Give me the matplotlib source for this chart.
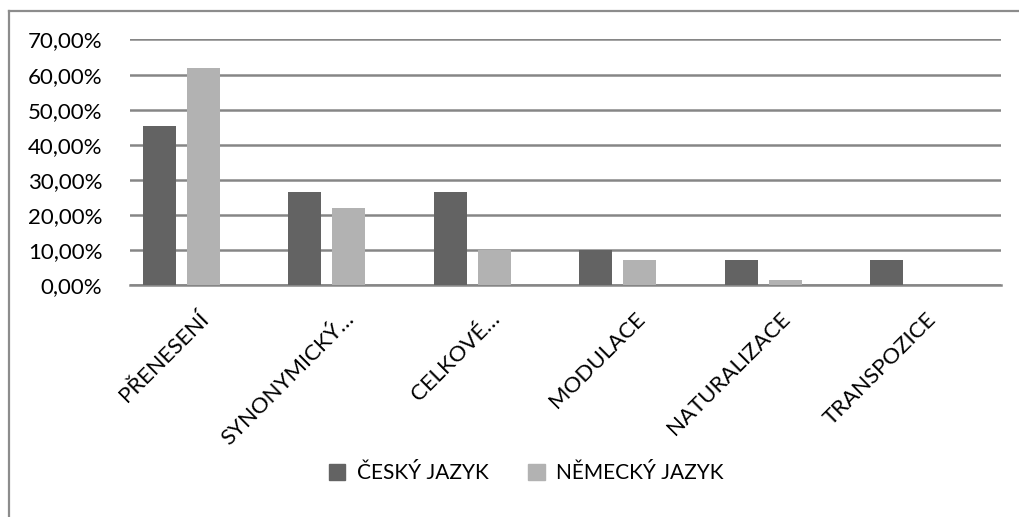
import matplotlib.pyplot as plt
import numpy as np
from matplotlib.lines import Line2D
from matplotlib.patches import Patch

# Share of each translation technique per language (fractions)
categories = ['PŘENESENÍ', 'SYNONYMICKÝ…', 'CELKOVÉ…', 'MODULACE', 'NATURALIZACE', 'TRANSPOZICE']
cesky = [0.453, 0.265, 0.265, 0.100, 0.072, 0.072]
nemecky = [0.618, 0.220, 0.101, 0.072, 0.015, 0.0]
series_names = ['ČESKÝ JAZYK', 'NĚMECKÝ JAZYK']
yticks = [0.0, 0.1, 0.2, 0.3, 0.4, 0.5, 0.6, 0.7]

plt.rcParams['font.family'] = ['Lato', 'DejaVu Sans']

dark = '#636363'
light = '#b2b2b2'
grid = '#868686'

fig = plt.figure(figsize=(10.2, 5.17), dpi=100)
ax = fig.add_axes([0.1275, 0.4478, 0.8539, 0.4758])

x = np.arange(len(categories))
w = 0.227
ax.bar(x - 0.151, cesky, w, color=dark, zorder=3)
ax.bar(x + 0.151, nemecky, w, color=light, zorder=3)

ax.set_xlim(-0.354, 5.636)
ax.set_ylim(0, 0.70)
ax.set_yticks(yticks)
ax.set_yticklabels([f'{v * 100:.2f}%'.replace('.', ',') for v in yticks], fontsize=16)
ax.yaxis.grid(True, color=grid, linewidth=1.8, zorder=0)
ax.tick_params(axis='y', length=0, pad=20)

ax.set_xticks(x + 0.165)
ax.set_xticklabels(categories, rotation=45, ha='right', va='center',
                   rotation_mode='anchor', fontsize=16)
ax.tick_params(axis='x', length=0, pad=22)

for side in ['top', 'right', 'left']:
    ax.spines[side].set_visible(False)
ax.spines['bottom'].set_color(grid)
ax.spines['bottom'].set_linewidth(1.8)

# chart area frame (only top and left edges fall inside the canvas)
fig.add_artist(Line2D([9 / 1020, 1.0], [1 - 11 / 517] * 2, color='#8c8c8c', linewidth=1.6))
fig.add_artist(Line2D([9.5 / 1020] * 2, [0.0, 1 - 11 / 517], color='#8c8c8c', linewidth=1.6))

handles = [Patch(color=dark), Patch(color=light)]
fig.legend(handles, series_names, loc='center', bbox_to_anchor=(0.516, 1 - 473 / 517),
           ncol=2, frameon=False, fontsize=15, handlelength=0.8, handleheight=0.8,
           handletextpad=0.55, columnspacing=1.9)

fig.savefig('out.png', dpi=100)
